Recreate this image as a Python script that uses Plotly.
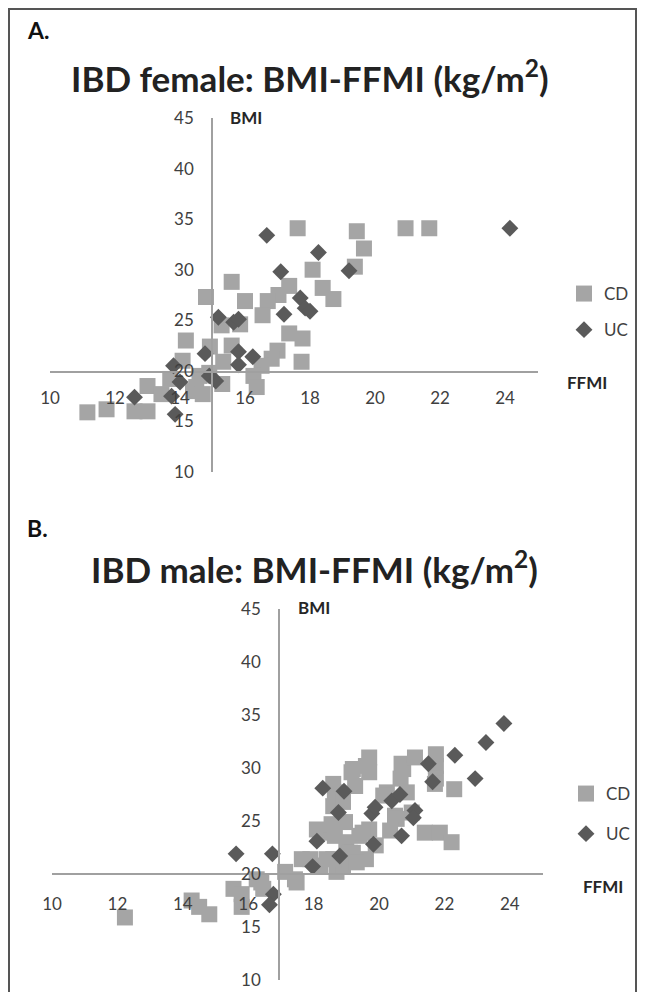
import plotly.graph_objects as go

# ---------------- data (FFMI, BMI) ----------------
# Panel A: IBD female
cd_f_ffmi = [17.62, 19.44, 19.66, 19.38, 18.08, 20.94, 21.67, 15.59, 14.8, 16.0, 18.39, 18.72,
             17.36, 17.03, 16.7, 16.54, 15.28, 15.85, 17.36, 17.77, 17.0, 17.74, 16.82, 16.51,
             14.92, 15.59, 15.33, 16.26, 16.36, 14.5, 14.18, 14.08, 13.7, 13.0, 13.43, 12.6,
             13.0, 11.74, 11.15, 14.4, 14.7, 14.9, 14.6, 15.3]
cd_f_bmi = [34.1, 33.8, 32.1, 30.3, 30.0, 34.1, 34.1, 28.8, 27.3, 26.9, 28.2, 27.1,
            28.4, 27.5, 26.9, 25.5, 24.5, 24.6, 23.7, 23.2, 22.0, 20.9, 21.2, 20.5,
            22.4, 22.5, 20.9, 19.5, 18.4, 18.4, 23.0, 21.0, 19.2, 18.5, 17.7, 16.0,
            16.0, 16.2, 15.9, 18.0, 17.7, 19.8, 19.5, 18.7]
uc_f_ffmi = [16.67, 18.26, 17.1, 19.2, 17.7, 17.85, 18.0, 17.2, 15.18, 15.65, 15.8, 14.77,
             15.8, 16.24, 15.8, 14.9, 15.1, 13.8, 14.0, 12.6, 13.74, 13.85, 24.15]
uc_f_bmi = [33.4, 31.7, 29.8, 29.9, 27.2, 26.2, 25.9, 25.6, 25.3, 24.8, 25.1, 21.7,
            21.9, 21.4, 20.6, 19.5, 19.0, 20.5, 18.9, 17.4, 17.5, 15.7, 34.1]

# Panel B: IBD male
cd_m_ffmi = [12.23, 14.27, 14.5, 14.81, 15.55, 15.8, 15.8, 16.26, 16.46, 16.4, 17.13, 17.48,
             17.43, 17.64, 17.9, 18.2, 18.4, 18.7, 18.9, 18.6, 18.2, 18.1, 18.55, 18.6,
             18.65, 18.9, 18.6, 19.16, 19.27, 19.2, 19.6, 19.7, 19.7, 18.65, 19.0, 19.2,
             19.4, 19.6, 19.7, 19.9, 19.5, 19.11, 19.32, 18.96, 20.69, 20.66, 20.74, 21.1,
             21.74, 21.74, 21.74, 21.71, 22.3, 20.85, 20.24, 20.13, 20.49, 21.0, 20.54, 20.34,
             21.4, 21.86, 22.22]
cd_m_bmi = [15.9, 17.5, 16.9, 16.2, 18.6, 18.1, 16.9, 19.5, 18.6, 19.2, 20.2, 19.2,
            19.5, 21.4, 21.4, 20.8, 21.4, 20.2, 20.8, 21.4, 23.9, 24.2, 24.7, 26.4,
            27.7, 26.8, 28.5, 29.6, 28.3, 29.9, 30.2, 31.0, 29.6, 23.6, 23.0, 22.0,
            23.6, 21.4, 24.2, 22.7, 23.9, 22.0, 21.1, 24.9, 30.4, 29.0, 29.9, 31.0,
            31.3, 30.2, 29.0, 28.5, 28.0, 27.7, 27.7, 27.4, 25.5, 25.8, 25.2, 24.1,
            23.9, 23.9, 23.0]
uc_m_ffmi = [15.63, 16.74, 16.77, 16.65, 18.28, 18.1, 17.97, 18.93, 18.76, 18.8, 19.78, 19.88,
             19.83, 23.82, 23.27, 22.32, 21.51, 21.64, 22.94, 20.39, 20.64, 21.1, 21.05, 20.69]
uc_m_bmi = [21.9, 21.9, 18.1, 17.1, 28.1, 23.1, 20.7, 27.8, 25.8, 21.7, 25.7, 26.3,
            22.8, 34.2, 32.4, 31.2, 30.4, 28.7, 29.0, 26.9, 27.5, 26.0, 25.3, 23.6]

x_ticks = [10, 12, 14, 16, 18, 20, 22, 24]
y_ticks = [10, 15, 20, 25, 30, 35, 40, 45]
x_range = [10, 25]
y_range = [10, 45]

CD_COLOR = "#a5a5a5"
UC_COLOR = "#5a5a5a"
AXIS_COLOR = "#a0a0a0"
TEXT_COLOR = "#404040"
FONT = "Lato"

# page body has an 8px margin on every side: size the figure so the page does not overflow
OFF = 8
W, H = 645 - 2 * OFF, 1000 - 2 * OFF


def px(x):
    return (x - OFF) / W


def py(y):
    return 1 - (y - OFF) / H


fig = go.Figure()


def add_panel(xa, ya, cdx, cdy, ucx, ucy, legend):
    fig.add_trace(go.Scatter(x=cdx, y=cdy, mode="markers", name="CD", xaxis=xa, yaxis=ya,
                             legend=legend, legendgroup=legend + "cd",
                             marker=dict(symbol="square", size=16, color=CD_COLOR)))
    fig.add_trace(go.Scatter(x=ucx, y=ucy, mode="markers", name="UC", xaxis=xa, yaxis=ya,
                             legend=legend, legendgroup=legend + "uc",
                             marker=dict(symbol="diamond", size=13, color=UC_COLOR)))


add_panel("x", "y", cd_f_ffmi, cd_f_bmi, uc_f_ffmi, uc_f_bmi, "legend")
add_panel("x2", "y2", cd_m_ffmi, cd_m_bmi, uc_m_ffmi, uc_m_bmi, "legend2")


def xaxis(domain, pos, standoff):
    return dict(domain=domain, range=x_range, anchor="free", position=pos,
                tickvals=x_ticks, showgrid=False, zeroline=False, ticks="",
                showline=True, linecolor=AXIS_COLOR, linewidth=1.5,
                tickfont=dict(family=FONT, size=17, color=TEXT_COLOR),
                ticklabelstandoff=standoff, automargin=False)


def yaxis(domain, pos):
    return dict(domain=domain, range=y_range, anchor="free", position=pos,
                tickvals=y_ticks, showgrid=False, zeroline=False, ticks="",
                showline=True, linecolor=AXIS_COLOR, linewidth=1.5,
                tickfont=dict(family=FONT, size=17, color=TEXT_COLOR),
                ticklabelstandoff=14, automargin=False)


fig.update_layout(
    xaxis=xaxis([px(50), px(537.5)], py(372), 11),
    yaxis=yaxis([py(472), py(118)], px(212)),
    xaxis2=xaxis([px(52), px(542.5)], py(874), 15),
    yaxis2=yaxis([py(980), py(609)], px(279)),
)

legend_style = dict(font=dict(family=FONT, size=17, color=TEXT_COLOR),
                    traceorder="grouped", itemwidth=30,
                    bgcolor="rgba(0,0,0,0)", xanchor="left", yanchor="top")
fig.update_layout(
    legend=dict(x=px(564), y=py(276), tracegroupgap=11, **legend_style),
    legend2=dict(x=px(566), y=py(776), tracegroupgap=15, **legend_style),
    showlegend=True,
)

annotations = [
    dict(text="<b>A.</b>", x=px(25), y=py(30), xanchor="left", yanchor="middle",
         font=dict(family=FONT, size=23, color="#111111")),
    dict(text="<b>IBD female: BMI-FFMI (kg/m<sup>2</sup>)</b>", x=px(310), y=py(76),
         xanchor="center", yanchor="middle", font=dict(family=FONT, size=35, color="#222222")),
    dict(text="<b>B.</b>", x=px(25), y=py(528), xanchor="left", yanchor="middle",
         font=dict(family=FONT, size=23, color="#111111")),
    dict(text="<b>IBD male: BMI-FFMI (kg/m<sup>2</sup>)</b>", x=px(314), y=py(567),
         xanchor="center", yanchor="middle", font=dict(family=FONT, size=35, color="#222222")),
    dict(text="<b>BMI</b>", x=px(246), y=py(117), xanchor="center", yanchor="middle",
         font=dict(family=FONT, size=17, color="#262626")),
    dict(text="<b>FFMI</b>", x=px(587), y=py(382), xanchor="center", yanchor="middle",
         font=dict(family=FONT, size=17, color="#262626")),
    dict(text="<b>BMI</b>", x=px(314), y=py(607), xanchor="center", yanchor="middle",
         font=dict(family=FONT, size=17, color="#262626")),
    dict(text="<b>FFMI</b>", x=px(603), y=py(886), xanchor="center", yanchor="middle",
         font=dict(family=FONT, size=17, color="#262626")),
]
for a in annotations:
    a.update(xref="paper", yref="paper", showarrow=False)

fig.update_layout(
    annotations=annotations,
    shapes=[dict(type="rect", xref="paper", yref="paper",
                 x0=px(9), x1=px(636), y0=-0.02, y1=py(9),
                 line=dict(color="#555555", width=2))],
    width=W, height=H,
    margin=dict(l=0, r=0, t=0, b=0),
    paper_bgcolor="white", plot_bgcolor="white",
    font=dict(family=FONT),
)

fig.write_html("out.html")
